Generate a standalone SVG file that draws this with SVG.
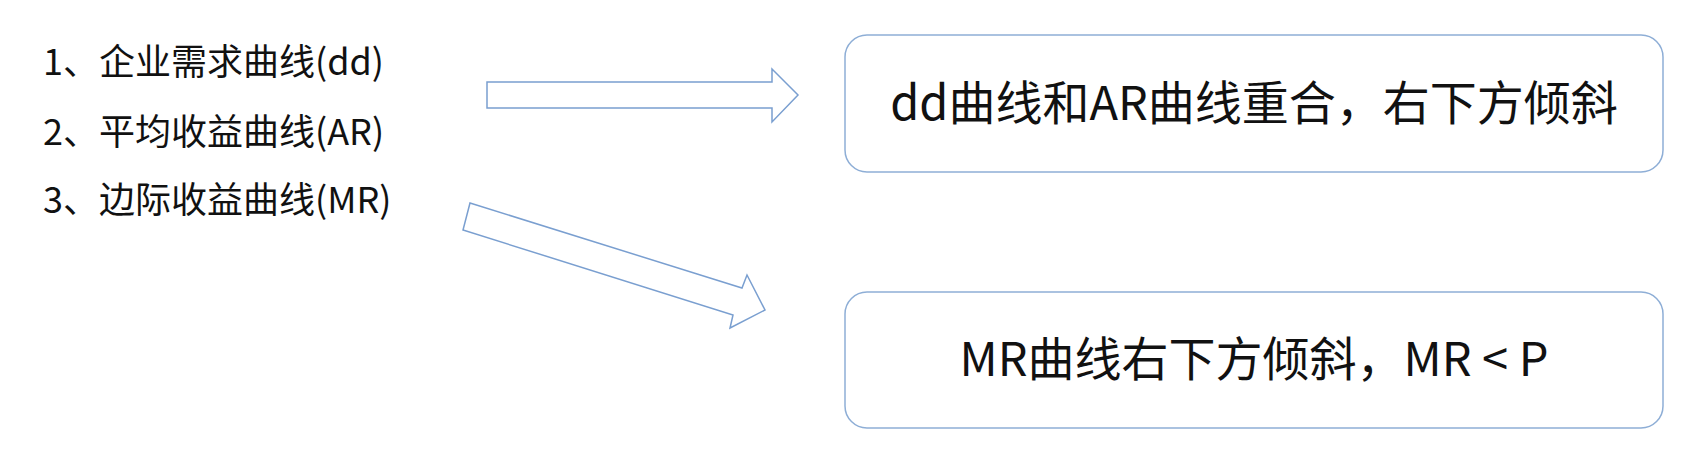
<svg xmlns="http://www.w3.org/2000/svg" width="1682" height="466" viewBox="0 0 1682 466">
<style>
text{font-family:"Noto Sans CJK SC","Noto Sans",sans-serif;fill:#111}
.l{font-size:36px}
.b{font-size:47px}
.box{fill:#fff;stroke:#8eaed6;stroke-width:1.5}
.arr{fill:#fff;stroke:#7a9fd0;stroke-width:1.5}
</style>
<rect width="1682" height="466" fill="#fff"/>
<g id="list">
<text class="l" x="43" y="75">1、企业需求曲线(dd)</text>
<text class="l" x="43" y="145">2、平均收益曲线(AR)</text>
<text class="l" x="43" y="213">3、边际收益曲线(MR)</text>
</g>
<g id="box1"><rect class="box" x="845" y="35" width="818" height="137" rx="22"/>
<text class="b" x="1254" y="120" text-anchor="middle">dd曲线和AR曲线重合，右下方倾斜</text></g>
<g id="box2"><rect class="box" x="845" y="292" width="818" height="136" rx="22"/>
<text class="b" x="1254" y="376" text-anchor="middle">MR曲线右下方倾斜，MR &lt; P</text></g>
<g id="connectors">
<path class="arr" d="M487 82 L772 82 L772 69 L798 95 L772 122 L772 108 L487 108 Z"/>
<path class="arr" d="M470 203 L742 288 L747 275 L765 310 L730 328 L733 315 L463 230 Z"/>
</g>
</svg>
